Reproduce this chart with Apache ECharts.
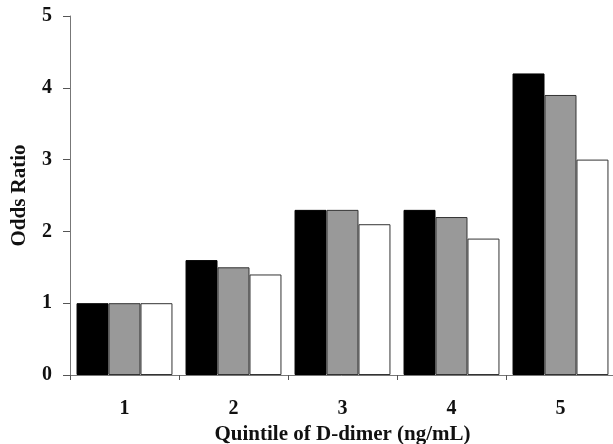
<!DOCTYPE html>
<html><head><meta charset="utf-8">
<script src="https://cdn.jsdelivr.net/npm/echarts@6/dist/echarts.min.js"></script>
<style>html,body{margin:0;padding:0;background:#fff;}#c{width:613px;height:444px;}</style>
</head><body><div id="c"></div>
<script>
var categories = ['1', '2', '3', '4', '5'];
var seriesBlack = [1.0, 1.6, 2.3, 2.3, 4.2];
var seriesGray = [1.0, 1.5, 2.3, 2.2, 3.9];
var seriesWhite = [1.0, 1.4, 2.1, 1.9, 3.0];
var yTicks = [0, 1, 2, 3, 4, 5];

var font = '"Liberation Serif", "Times New Roman", serif';
var chart = echarts.init(document.getElementById('c'), null, {renderer: 'canvas'});
function bar(data, color, border) {
  return {
    type: 'bar', data: data, barGap: '0%', barCategoryGap: '12%',
    itemStyle: {color: color, borderColor: border, borderWidth: 1},
    animation: false
  };
}
chart.setOption({
  animation: false,
  backgroundColor: '#fff',
  grid: {left: 70, top: 16, bottom: 69, width: 545, containLabel: false, outerBoundsMode: 'none'},
  xAxis: {
    type: 'category', data: categories,
    axisLine: {lineStyle: {color: '#777', width: 1}},
    axisTick: {show: true, length: 5, lineStyle: {color: '#555'}},
    axisLabel: {margin: 24, fontFamily: font, fontWeight: 'bold', fontSize: 20, color: '#111'},
    name: 'Quintile of D-dimer (ng/mL)', nameLocation: 'middle', nameGap: 41,
    nameTextStyle: {fontFamily: font, fontWeight: 'bold', fontSize: 21, color: '#111'}
  },
  yAxis: {
    type: 'value', min: yTicks[0], max: yTicks[yTicks.length - 1], interval: 1,
    splitLine: {show: false},
    axisLine: {show: true, lineStyle: {color: '#777', width: 1}},
    axisTick: {show: true, length: 7, lineStyle: {color: '#555'}},
    axisLabel: {margin: 18, fontFamily: font, fontWeight: 'bold', fontSize: 20, color: '#111'},
    name: 'Odds Ratio', nameLocation: 'middle', nameGap: 40, nameRotate: 90,
    nameTextStyle: {fontFamily: font, fontWeight: 'bold', fontSize: 21, color: '#111'}
  },
  series: [
    bar(seriesBlack, '#000000', '#000000'),
    bar(seriesGray, '#999999', '#333333'),
    bar(seriesWhite, '#ffffff', '#333333')
  ]
});
</script></body></html>
